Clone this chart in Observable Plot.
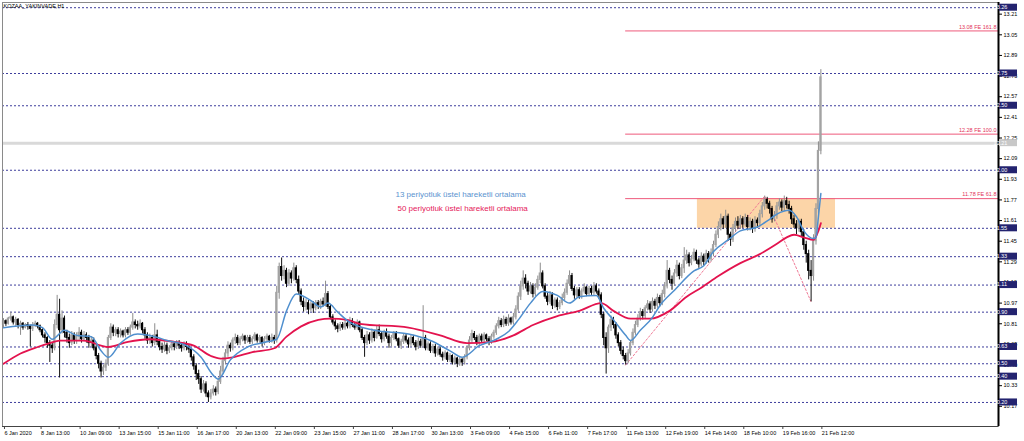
<!DOCTYPE html>
<html><head><meta charset="utf-8">
<script src="https://cdn.jsdelivr.net/npm/d3@7"></script>
<script src="https://cdn.jsdelivr.net/npm/@observablehq/plot@0.6"></script>
<style>body{margin:0;background:#fff;overflow:hidden} svg{display:block}</style>
</head><body><div id="chart"></div>
<script>
const title = "KOZAA_YAKINVADE,H1";
const legendLines = ["13 periyotluk üstel hareketli ortalama", "50 periyotluk üstel hareketli ortalama"];

const closes = [
10.83,10.81,10.85,10.86,10.82,10.84,10.80,10.81,10.78,10.80,
10.79,10.77,10.80,10.81,10.79,10.76,10.72,10.70,10.66,10.64,
10.62,10.80,10.88,10.76,10.85,10.74,10.70,10.66,10.72,10.68,
10.71,10.74,10.69,10.72,10.70,10.66,10.68,10.62,10.56,10.50,
10.44,10.47,10.50,10.70,10.78,10.74,10.76,10.73,10.75,10.72,
10.76,10.74,10.78,10.82,10.80,10.79,10.81,10.76,10.72,10.68,
10.70,10.66,10.72,10.67,10.63,10.61,10.64,10.60,10.62,10.65,
10.63,10.66,10.64,10.62,10.65,10.63,10.61,10.55,10.48,10.42,
10.38,10.30,10.34,10.27,10.24,10.27,10.30,10.28,10.36,10.44,
10.52,10.58,10.64,10.62,10.68,10.70,10.66,10.69,10.71,10.68,
10.70,10.67,10.69,10.72,10.68,10.70,10.66,10.69,10.71,10.68,
10.70,10.68,11.05,11.25,11.18,11.22,11.12,11.20,11.16,11.24,
11.15,11.06,10.98,10.94,10.97,10.92,10.96,10.93,10.97,10.95,
10.98,10.96,11.04,10.94,10.86,10.82,10.79,10.77,10.80,10.78,
10.81,10.79,10.83,10.80,10.78,10.82,10.76,10.70,10.66,10.72,
10.68,10.74,10.70,10.76,10.73,10.69,10.74,10.71,10.66,10.70,
10.73,10.69,10.64,10.67,10.71,10.68,10.65,10.70,10.66,10.63,
10.67,10.64,10.70,10.62,10.65,10.60,10.63,10.58,10.61,10.57,
10.55,10.58,10.53,10.56,10.51,10.54,10.50,10.53,10.51,10.55,
10.62,10.68,10.73,10.70,10.66,10.71,10.68,10.72,10.69,10.67,
10.71,10.74,10.79,10.83,10.80,10.84,10.81,10.85,10.82,10.86,
10.92,11.02,11.10,11.16,11.12,11.06,11.10,11.04,11.09,11.15,
11.20,11.10,11.02,10.98,11.03,10.95,10.99,10.94,10.97,11.01,
11.05,11.12,11.18,11.08,11.03,11.07,11.02,11.06,11.09,11.04,
11.08,11.05,11.10,11.06,11.03,10.88,10.70,10.62,10.78,10.84,
10.80,10.72,10.66,10.60,10.56,10.52,10.58,10.66,10.74,10.80,
10.85,10.90,10.87,10.93,10.96,10.92,10.98,10.95,11.01,10.97,
11.04,11.10,11.22,11.15,11.12,11.20,11.26,11.18,11.24,11.30,
11.34,11.28,11.31,11.36,11.30,11.27,11.33,11.29,11.35,11.31,
11.36,11.42,11.50,11.56,11.62,11.58,11.64,11.50,11.46,11.55,
11.60,11.57,11.62,11.58,11.63,11.56,11.60,11.55,11.61,11.59,
11.66,11.72,11.77,11.74,11.70,11.62,11.65,11.72,11.75,11.71,
11.76,11.73,11.70,11.62,11.58,11.55,11.60,11.52,11.42,11.35,
11.22,11.18,11.45,11.70,12.15,12.72];

const opens = [
10.80,10.83,10.81,10.85,10.86,10.82,10.84,10.80,10.81,10.78,
10.80,10.79,10.77,10.80,10.81,10.79,10.76,10.72,10.70,10.66,
10.64,10.62,10.80,10.88,10.76,10.85,10.74,10.70,10.66,10.72,
10.68,10.71,10.74,10.69,10.72,10.70,10.66,10.68,10.62,10.56,
10.50,10.44,10.47,10.50,10.70,10.78,10.74,10.76,10.73,10.75,
10.72,10.76,10.74,10.78,10.82,10.80,10.79,10.81,10.76,10.72,
10.68,10.70,10.66,10.72,10.67,10.63,10.61,10.64,10.60,10.62,
10.65,10.63,10.66,10.64,10.62,10.65,10.63,10.61,10.55,10.48,
10.42,10.38,10.30,10.34,10.27,10.24,10.27,10.30,10.28,10.36,
10.44,10.52,10.58,10.64,10.62,10.68,10.70,10.66,10.69,10.71,
10.68,10.70,10.67,10.69,10.72,10.68,10.70,10.66,10.69,10.71,
10.68,10.70,10.68,11.05,11.25,11.18,11.22,11.12,11.20,11.16,
11.24,11.15,11.06,10.98,10.94,10.97,10.92,10.96,10.93,10.97,
10.95,10.98,10.96,11.04,10.94,10.86,10.82,10.79,10.77,10.80,
10.78,10.81,10.79,10.83,10.80,10.78,10.82,10.76,10.70,10.66,
10.72,10.68,10.74,10.70,10.76,10.73,10.69,10.74,10.71,10.66,
10.70,10.73,10.69,10.64,10.67,10.71,10.68,10.65,10.70,10.66,
10.63,10.67,10.64,10.70,10.62,10.65,10.60,10.63,10.58,10.61,
10.57,10.55,10.58,10.53,10.56,10.51,10.54,10.50,10.53,10.51,
10.55,10.62,10.68,10.73,10.70,10.66,10.71,10.68,10.72,10.69,
10.67,10.71,10.74,10.79,10.83,10.80,10.84,10.81,10.85,10.82,
10.86,10.92,11.02,11.10,11.16,11.12,11.06,11.10,11.04,11.09,
11.15,11.20,11.10,11.02,10.98,11.03,10.95,10.99,10.94,10.97,
11.01,11.05,11.12,11.18,11.08,11.03,11.07,11.02,11.06,11.09,
11.04,11.08,11.05,11.10,11.06,11.03,10.88,10.70,10.62,10.78,
10.84,10.80,10.72,10.66,10.60,10.56,10.52,10.58,10.66,10.74,
10.80,10.85,10.90,10.87,10.93,10.96,10.92,10.98,10.95,11.01,
10.97,11.04,11.10,11.22,11.15,11.12,11.20,11.26,11.18,11.24,
11.30,11.34,11.28,11.31,11.36,11.30,11.27,11.33,11.29,11.35,
11.31,11.36,11.42,11.50,11.56,11.62,11.58,11.64,11.50,11.46,
11.55,11.60,11.57,11.62,11.58,11.63,11.56,11.60,11.55,11.61,
11.59,11.66,11.72,11.77,11.74,11.70,11.62,11.65,11.72,11.75,
11.71,11.76,11.73,11.70,11.62,11.58,11.55,11.60,11.52,11.42,
11.35,11.22,11.18,11.45,11.70,12.15];

const highs = [
10.85,10.84,10.86,10.90,10.87,10.86,10.85,10.83,10.82,10.81,
10.82,10.80,10.82,10.83,10.82,10.80,10.77,10.74,10.71,10.68,
10.66,10.84,11.03,11.00,10.91,10.87,10.76,10.73,10.75,10.74,
10.74,10.78,10.76,10.75,10.74,10.72,10.71,10.70,10.64,10.58,
10.52,10.49,10.53,10.72,10.81,10.80,10.78,10.78,10.77,10.76,
10.78,10.78,10.80,10.89,10.84,10.83,10.84,10.82,10.78,10.74,
10.73,10.72,10.81,10.76,10.69,10.66,10.67,10.66,10.64,10.67,
10.67,10.68,10.68,10.66,10.67,10.67,10.65,10.62,10.57,10.50,
10.45,10.40,10.37,10.36,10.29,10.30,10.33,10.32,10.39,10.48,
10.55,10.61,10.67,10.66,10.70,10.73,10.72,10.71,10.73,10.72,
10.72,10.72,10.71,10.74,10.73,10.72,10.71,10.71,10.73,10.72,
10.73,10.72,11.10,11.28,11.32,11.26,11.24,11.23,11.22,11.28,
11.26,11.18,11.08,11.01,11.00,10.99,10.98,10.98,10.99,10.99,
11.00,11.01,11.14,11.06,10.96,10.88,10.84,10.81,10.82,10.82,
10.84,10.83,10.86,10.85,10.82,10.84,10.83,10.78,10.72,10.75,
10.74,10.77,10.76,10.79,10.80,10.75,10.76,10.77,10.73,10.72,
10.75,10.75,10.70,10.69,10.73,10.73,10.70,10.72,10.72,10.68,
10.70,10.69,10.95,10.72,10.67,10.67,10.65,10.65,10.63,10.63,
10.59,10.60,10.59,10.58,10.57,10.56,10.55,10.55,10.54,10.57,
10.64,10.71,10.76,10.75,10.72,10.73,10.73,10.74,10.73,10.71,
10.73,10.76,10.81,10.86,10.85,10.87,10.86,10.88,10.86,10.89,
10.95,11.05,11.14,11.22,11.19,11.14,11.13,11.12,11.12,11.18,
11.28,11.22,11.12,11.05,11.06,11.05,11.01,11.01,10.99,11.04,
11.08,11.15,11.22,11.20,11.10,11.09,11.09,11.08,11.12,11.10,
11.10,11.10,11.13,11.12,11.08,11.05,10.90,10.74,10.80,10.87,
10.86,10.82,10.74,10.68,10.63,10.58,10.61,10.68,10.77,10.83,
10.88,10.93,10.92,10.95,10.99,10.98,11.01,11.00,11.04,11.03,
11.07,11.13,11.30,11.24,11.18,11.23,11.30,11.28,11.27,11.40,
11.38,11.36,11.34,11.39,11.38,11.32,11.36,11.35,11.38,11.37,
11.39,11.45,11.53,11.60,11.66,11.64,11.69,11.66,11.52,11.58,
11.63,11.64,11.65,11.64,11.66,11.65,11.63,11.62,11.64,11.63,
11.69,11.75,11.80,11.79,11.76,11.72,11.68,11.75,11.78,11.77,
11.80,11.79,11.76,11.72,11.65,11.61,11.62,11.62,11.54,11.45,
11.38,11.30,11.50,11.74,12.22,12.78];

const lows = [
10.78,10.79,10.80,10.83,10.80,10.79,10.77,10.72,10.76,10.77,
10.76,10.63,10.75,10.78,10.77,10.74,10.70,10.66,10.62,10.51,
10.58,10.60,10.77,10.39,10.73,10.70,10.66,10.62,10.64,10.65,
10.65,10.68,10.66,10.67,10.66,10.62,10.63,10.60,10.53,10.46,
10.39,10.41,10.44,10.48,10.68,10.71,10.71,10.70,10.70,10.70,
10.70,10.72,10.72,10.76,10.77,10.76,10.77,10.73,10.69,10.65,
10.65,10.63,10.64,10.64,10.60,10.58,10.59,10.57,10.58,10.60,
10.60,10.61,10.61,10.59,10.60,10.60,10.58,10.52,10.45,10.37,
10.34,10.27,10.28,10.24,10.20,10.22,10.25,10.25,10.26,10.34,
10.42,10.49,10.55,10.59,10.60,10.65,10.64,10.64,10.67,10.65,
10.66,10.65,10.65,10.67,10.66,10.66,10.63,10.64,10.67,10.66,
10.66,10.65,10.66,11.00,11.14,11.15,11.09,11.10,11.12,11.14,
11.12,11.03,10.95,10.90,10.91,10.88,10.90,10.89,10.91,10.92,
10.92,10.94,10.94,10.92,10.84,10.80,10.76,10.74,10.75,10.76,
10.76,10.77,10.77,10.78,10.76,10.76,10.74,10.68,10.55,10.64,
10.65,10.66,10.67,10.69,10.71,10.66,10.67,10.69,10.62,10.63,
10.68,10.67,10.62,10.61,10.65,10.66,10.62,10.63,10.64,10.60,
10.61,10.62,10.62,10.60,10.60,10.58,10.58,10.55,10.56,10.55,
10.52,10.53,10.51,10.51,10.49,10.49,10.47,10.48,10.48,10.49,
10.53,10.60,10.66,10.68,10.64,10.64,10.66,10.66,10.67,10.64,
10.65,10.69,10.72,10.77,10.78,10.78,10.79,10.79,10.80,10.80,
10.84,10.90,10.99,11.07,11.08,11.03,11.04,11.01,11.02,11.07,
11.12,11.08,11.00,10.95,10.96,10.92,10.93,10.91,10.92,10.95,
10.99,11.03,11.10,11.06,11.00,11.01,11.00,11.00,11.04,11.02,
11.02,11.03,11.03,11.04,11.00,10.85,10.64,10.42,10.58,10.75,
10.77,10.69,10.63,10.57,10.53,10.49,10.50,10.56,10.64,10.72,
10.78,10.83,10.84,10.85,10.91,10.89,10.90,10.92,10.93,10.94,
10.95,11.01,11.08,11.12,11.07,11.10,11.17,11.15,11.16,11.20,
11.27,11.25,11.26,11.29,11.27,11.24,11.25,11.26,11.27,11.28,
11.29,11.33,11.40,11.47,11.53,11.54,11.55,11.45,11.41,11.44,
11.52,11.54,11.54,11.55,11.56,11.53,11.53,11.51,11.52,11.55,
11.56,11.63,11.69,11.70,11.66,11.59,11.60,11.62,11.69,11.68,
11.68,11.70,11.66,11.58,11.55,11.50,11.52,11.48,11.38,11.28,
11.15,10.98,11.14,11.42,11.66,12.12];

// EMA readings (bar index, price)
const ema13Idx = [0,12,16,20,25,30,36,40,43,48,55,62,67,75,81,86,88,93,100,108,112,116,120,126,130,133,137,142,152,166,175,183,188,195,202,207,211,216,221,227,232,236,243,246,250,255,257,261,266,269,275,283,287,291,297,302,309,314,317,322,325,328,332,333,334,335];
const ema13Val = [10.78,10.80,10.78,10.69,10.76,10.72,10.71,10.60,10.55,10.66,10.73,10.71,10.68,10.64,10.55,10.41,10.38,10.53,10.63,10.67,10.69,10.91,11.04,10.99,10.94,10.97,10.90,10.82,10.76,10.73,10.68,10.60,10.55,10.64,10.69,10.75,10.84,10.97,11.06,11.03,10.97,11.02,11.03,10.93,10.84,10.72,10.68,10.76,10.86,10.95,11.07,11.22,11.26,11.37,11.46,11.53,11.56,11.62,11.66,11.69,11.64,11.53,11.47,11.48,11.64,11.82];
const ema50Idx = [0,7,14,19,23,33,40,43,51,60,70,78,85,89,94,102,111,116,122,129,134,141,146,166,179,190,200,209,217,227,236,245,250,257,265,273,280,286,293,302,310,317,321,324,328,332,334,335];
const ema50Val = [10.50,10.58,10.63,10.66,10.68,10.68,10.64,10.63,10.67,10.69,10.67,10.64,10.56,10.54,10.55,10.59,10.62,10.71,10.79,10.84,10.85,10.84,10.81,10.78,10.72,10.66,10.67,10.72,10.80,10.87,10.91,10.97,10.91,10.85,10.85,10.91,11.02,11.09,11.18,11.28,11.35,11.43,11.48,11.50,11.48,11.46,11.53,11.59];

// Horizontal levels and axis
const levels = [13.26,12.75,12.50,12.00,11.55,11.33,11.11,10.90,10.63,10.50,10.40,10.20];
const bid = 12.21;
const yTicks = [10.17,10.33,10.49,10.65,10.81,10.97,11.13,11.29,11.45,11.61,11.77,11.93,12.09,12.25,12.41,12.57,12.73,12.89,13.05,13.21];
const xTickIdx = [0,15,31,47,63,79,95,111,127,143,159,175,191,207,223,239,255,271,287,303,319,335];
const xTickLabels = ["6 Jan 2020","8 Jan 13:00","10 Jan 09:00","13 Jan 15:00","15 Jan 11:00","16 Jan 17:00","20 Jan 13:00","22 Jan 09:00","23 Jan 15:00","27 Jan 11:00","28 Jan 17:00","30 Jan 13:00","3 Feb 09:00","4 Feb 15:00","6 Feb 11:00","7 Feb 17:00","11 Feb 13:00","12 Feb 19:00","14 Feb 14:00","18 Feb 10:00","19 Feb 16:00","21 Feb 12:00"];

// Fibonacci expansion
const feValues = [13.08, 12.28, 11.78];
const feLabels = ["13.08 FE 161.8", "12.28 FE 100.0", "11.78 FE 61.8"];
const fibIdx = [255, 312, 331];
const fibVal = [10.49, 11.80, 10.98];
const zoneIdx = [284.4, 341];
const zoneVal = [11.55, 11.78];

const xDomain = [-0.4, 407.8];
const yDomain = [10.0136, 13.3004];

const rows = closes.map((c, i) => ({i, o: opens[i], h: highs[i], l: lows[i], c}));
const upBars = rows.filter(d => d.c >= d.o);
const downBars = rows.filter(d => d.c < d.o);
const ema13 = ema13Idx.map((x, k) => ({x, y: ema13Val[k]}));
const ema50 = ema50Idx.map((x, k) => ({x, y: ema50Val[k]}));
const feRows = feValues.map((v, k) => ({v, label: feLabels[k]}));
const fibPts = fibIdx.map((x, k) => ({x, y: fibVal[k]}));
const zone = [{x1: zoneIdx[0], x2: zoneIdx[1], y1: zoneVal[0], y2: zoneVal[1]}];

const FONT = "Liberation Sans, Arial, sans-serif";

const chart = Plot.plot({
  width: 1024, height: 441,
  marginTop: 2, marginRight: 26, marginBottom: 15, marginLeft: 2,
  x: {domain: xDomain, axis: null},
  y: {domain: yDomain, axis: null},
  style: {fontFamily: FONT, background: "#fff", overflow: "visible"},
  marks: [
    Plot.rect(zone, {x1: "x1", x2: "x2", y1: "y1", y2: "y2", fill: "#fcd5a8"}),
    Plot.ruleY([bid], {stroke: "#d9d9d9", strokeWidth: 3}),
    Plot.ruleY(levels, {stroke: "#3e3e9c", strokeDasharray: "2,2", strokeWidth: 1}),
    Plot.ruleY(feRows, {y: "v", x1: fibIdx[0], x2: xDomain[1], stroke: "#ee5a7c", strokeWidth: 1}),
    Plot.line(fibPts, {x: "x", y: "y", stroke: "#f07a96", strokeDasharray: "2,2", strokeWidth: 1}),
    Plot.ruleX(upBars, {x: "i", y1: "l", y2: "h", stroke: "#8c8c8c", strokeWidth: 1}),
    Plot.rect(upBars, {x1: d => d.i - 0.45, x2: d => d.i + 0.45, y1: "o", y2: "c", fill: "#a3a3a3", insetTop: -0.5, insetBottom: -0.5}),
    Plot.ruleX(downBars, {x: "i", y1: "l", y2: "h", stroke: "#111", strokeWidth: 1}),
    Plot.rect(downBars, {x1: d => d.i - 0.45, x2: d => d.i + 0.45, y1: "o", y2: "c", fill: "#000", insetTop: -0.5, insetBottom: -0.5}),
    Plot.line(ema50, {x: "x", y: "y", stroke: "#e3134e", strokeWidth: 1.8, curve: "monotone-x"}),
    Plot.line(ema13, {x: "x", y: "y", stroke: "#4f8fce", strokeWidth: 1.5, curve: "monotone-x"}),
    Plot.text(feRows, {x: xDomain[1], y: "v", text: "label", textAnchor: "end", dx: -2, dy: -4, fill: "#e3345a", fontSize: 5.5}),
    Plot.text([legendLines[0]], {frameAnchor: "top-left", dx: 393, dy: 189, fill: "#5a93cf", fontSize: 8, textAnchor: "start", lineAnchor: "top"}),
    Plot.text([legendLines[1]], {frameAnchor: "top-left", dx: 395, dy: 203, fill: "#e5195a", fontSize: 8, textAnchor: "start", lineAnchor: "top"}),
    Plot.text([title], {frameAnchor: "top-left", dx: 1, dy: 2, fill: "#000", fontSize: 5.5, textAnchor: "start", lineAnchor: "top"}),
    Plot.frame({stroke: "#8a8a8a"}),
    Plot.ruleY([yDomain[0]], {stroke: "#444", strokeWidth: 1}),
    Plot.ruleX([xDomain[1]], {stroke: "#000", strokeWidth: 2}),
    Plot.axisY(yTicks, {anchor: "right", tickSize: 3, tickPadding: 2, fontSize: 5.5, tickFormat: d => d.toFixed(2), stroke: "#000", fill: "#000"}),
    Plot.axisX(xTickIdx, {anchor: "bottom", tickSize: 3, tickPadding: 2, fontSize: 5.5, textAnchor: "start", dx: 1, tickFormat: d => xTickLabels[xTickIdx.indexOf(d)], stroke: "#444", fill: "#000"})
  ]
});

document.getElementById("chart").appendChild(chart);

// price label boxes on the right axis, positioned with the plot's own scales
const ys = chart.scale("y");
const xs = chart.scale("x");
const x0 = xs.apply(xDomain[1]) + 1;
const g = d3.select(chart).append("g").attr("font-family", FONT).attr("font-size", 5.5);
levels.forEach(v => {
  const yy = ys.apply(v);
  g.append("rect").attr("x", x0).attr("y", yy - 3.5).attr("width", 18).attr("height", 7).attr("fill", "#23236f");
  g.append("text").attr("x", x0 + 1.5).attr("y", yy).attr("dy", "0.35em").attr("fill", "#fff").text(v.toFixed(2));
});
{
  const yy = ys.apply(bid);
  g.append("rect").attr("x", x0).attr("y", yy - 3.5).attr("width", 18).attr("height", 7).attr("fill", "#c8c8c8");
  g.append("text").attr("x", x0 + 1.5).attr("y", yy).attr("dy", "0.35em").attr("fill", "#fff").text(bid.toFixed(2));
}
</script>
</body></html>
